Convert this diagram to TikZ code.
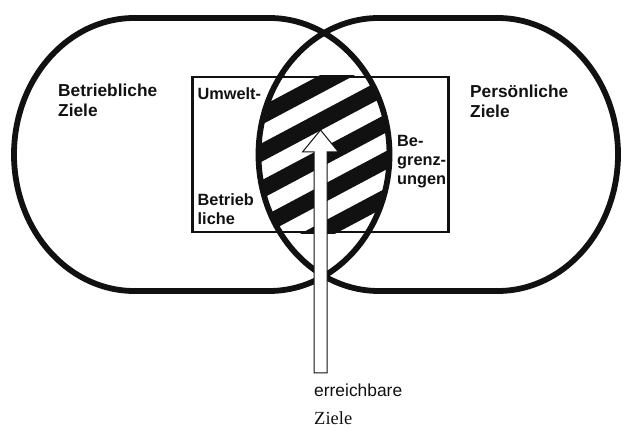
\documentclass[tikz,border=0pt]{standalone}
\usepackage{fontspec}
\usepackage{tikz}
\usetikzlibrary{calc}
\newfontfamily\labelfont{Liberation Sans}
\newfontfamily\notefont{Liberation Serif}
\definecolor{ink}{HTML}{111111}
\tikzset{
  goalshape/.style={draw=ink,line width=5.8pt},
  framebox/.style={rectangle,draw=ink,line width=2.6pt,inner sep=0pt},
  goallabel/.style={anchor=north west,inner sep=0pt,align=left,text=ink,
    font=\labelfont\bfseries\fontsize{17.3}{19.5}\selectfont},
  innerlabel/.style={goallabel,font=\labelfont\bfseries\fontsize{16.3}{19}\selectfont},
  hollowarrow/.style={draw=ink,fill=white,line width=1pt,line join=miter},
}
\newcommand{\goalpath}[2]{(#1,410) -- (#2,410)
  arc[start angle=90,end angle=-90,x radius=120.4,y radius=136.5] -- (#1,137)
  arc[start angle=270,end angle=90,x radius=120.4,y radius=136.5] -- cycle}

\begin{document}
\begin{tikzpicture}[x=1pt,y=1pt]
  \useasboundingbox (0,0) rectangle (623,428);
  \node[framebox,minimum width=256pt,minimum height=155pt] (frame) at (320.5,273.5) {};
  % hatched overlap inside the frame
  \begin{scope}
    \clip \goalpath{134.4}{269.1};
    \clip \goalpath{378.9}{497.6};
    \clip (frame.south west) rectangle (frame.north east);
    \begin{scope}[shift={(324,273.5)},rotate=28]
      \foreach \k in {-6,...,6}
        \fill[ink] (-170,{-9.8+32.7*\k}) rectangle (170,{6.5+32.7*\k});
    \end{scope}
  \end{scope}
  \node[goallabel] (bz) at (58,344) {Betriebliche\\Ziele};
  \node[goallabel] (pz) at (470,343) {Persönliche\\Ziele};
  \node[innerlabel] (uw) at (197.5,341) {Umwelt-};
  \node[innerlabel] (bl) at (197.5,234.7) {Betrieb\\liche};
  \node[innerlabel] (bg) at (397,293) {Be-\\grenz-\\ungen};
  \draw[goalshape] \goalpath{134.4}{269.1};
  \draw[goalshape] \goalpath{378.9}{497.6};
  \coordinate (tip) at (320.5,298);
  \coordinate (foot) at (320.5,55);
  \draw[hollowarrow] ($(foot)+(-6.5,0)$) -- ($(tip)+(-6.5,-22)$) -- ($(tip)+(-18,-22)$)
    -- (tip) -- ($(tip)+(18,-22)$) -- ($(tip)+(6.5,-22)$) -- ($(foot)+(6.5,0)$) -- cycle;
  \node[anchor=base west,inner sep=0pt,text=ink,font=\labelfont\fontsize{17.4}{20}\selectfont]
    (er) at (314,31) {erreichbare};
  \node[anchor=base west,inner sep=0pt,text=ink,font=\notefont\fontsize{18.5}{22}\selectfont]
    (zl) at (314,4) {Ziele};
\end{tikzpicture}
\end{document}
